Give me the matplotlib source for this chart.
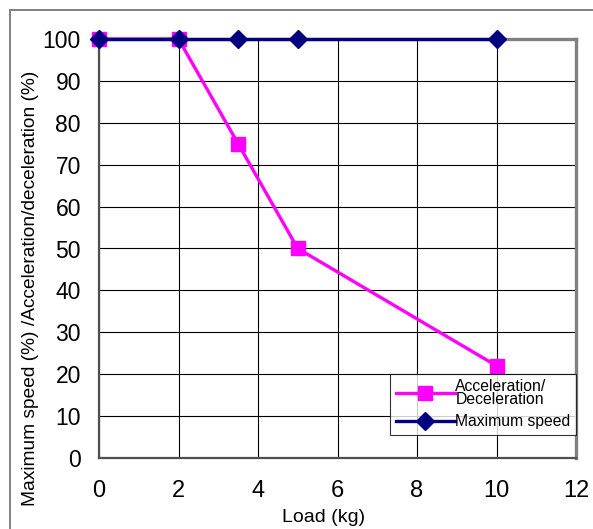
"""Load vs. maximum speed / acceleration chart."""

import matplotlib.pyplot as plt
from matplotlib.patches import Rectangle

plt.switch_backend("Agg")
plt.rcParams["font.family"] = ["Liberation Sans", "DejaVu Sans"]

load_kg = [0, 2, 3.5, 5, 10]
accel_pct = [100, 100, 75, 50, 22]
max_speed_pct = [100, 100, 100, 100, 100]
x_ticks = [0, 2, 4, 6, 8, 10, 12]
y_ticks = [0, 10, 20, 30, 40, 50, 60, 70, 80, 90, 100]

W, H = 593, 529
fig = plt.figure(figsize=(W / 100, H / 100), dpi=100)

# outer chart-area frame (runs off the right and bottom edge)
fig.patches.append(
    Rectangle((10 / W, -0.1), 1.2, 1 - 10 / H + 0.1, transform=fig.transFigure,
              fill=False, edgecolor="#808080", linewidth=1.4)
)

ax = fig.add_axes([99 / W, 1 - 458 / H, (576 - 99) / W, (458 - 39) / H])
ax.set_xlim(0, 12)
ax.set_ylim(0, 100)
ax.set_xticks(x_ticks)
ax.set_yticks(y_ticks)
ax.tick_params(length=0)
ax.tick_params(axis="x", labelsize=17, pad=16)
ax.tick_params(axis="y", labelsize=16.5, pad=13)
ax.grid(True, color="black", linewidth=0.8)
ax.set_axisbelow(True)
for side in ("left", "bottom"):
    ax.spines[side].set_color("#505050")
    ax.spines[side].set_linewidth(1.6)
for side in ("top", "right"):
    ax.spines[side].set_color("#808080")
    ax.spines[side].set_linewidth(2.4)

ax.plot(load_kg, accel_pct, color="#FF00FF", linewidth=2.4, marker="s",
        markersize=10.5, label="Acceleration/\nDeceleration", clip_on=False, zorder=3)
ax.plot(load_kg, max_speed_pct, color="#000080", linewidth=2.4, marker="D",
        markersize=9, label="Maximum speed", clip_on=False, zorder=4)

fig.text(324 / W, 1 - 517 / H, "Load (kg)", fontsize=14, ha="center", va="center")
fig.text(31 / W, 1 - 288 / H, "Maximum speed (%) /Acceleration/deceleration (%)",
         fontsize=13.8, rotation=90, ha="center", va="center")

leg = ax.legend(loc="lower right", bbox_to_anchor=(1.0, 0.055), fontsize=11.3,
                frameon=True, fancybox=False, borderpad=0.35, handlelength=3.8,
                handletextpad=0.0, labelspacing=0.5, borderaxespad=0.0)
leg.get_frame().set_edgecolor("black")
leg.get_frame().set_linewidth(0.8)
for text in leg.get_texts():
    text.set_linespacing(0.8)

fig.savefig("out.png", dpi=100)
